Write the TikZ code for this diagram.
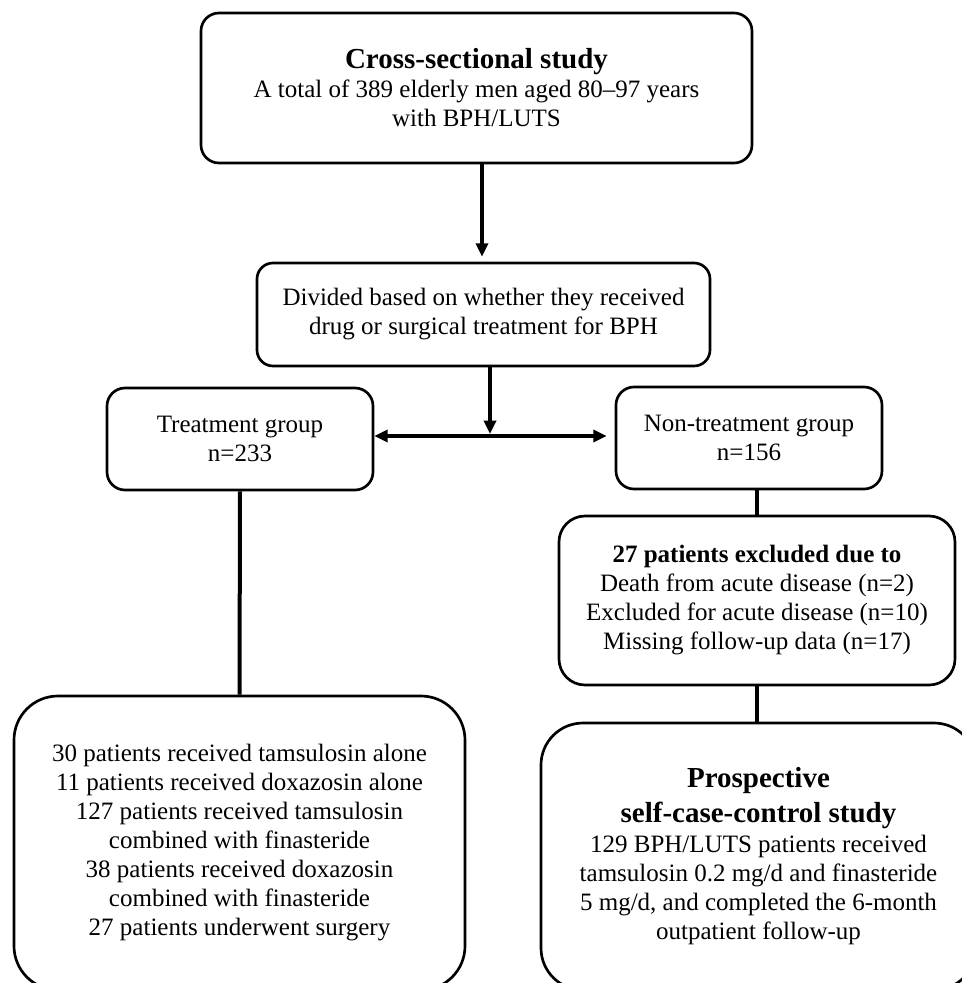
\documentclass[tikz,border=0pt]{standalone}
\usepackage{fontspec}
\setmainfont{Liberation Serif}
\usetikzlibrary{arrows.meta}

\tikzset{every picture/.style={line width=0.75pt}}
\tikzset{
	box/.style={draw, line width=2pt, rounded corners=#1, align=center, inner sep=0pt, font=\fontsize{18.75}{21.75}\selectfont},
	box/.default=13.5pt,
	conn/.style={line width=3pt},
	arr/.style={conn, -{Triangle[length=10pt,width=9pt]}},
	arrs/.style={conn, {Triangle[length=10pt,width=9pt]}-{Triangle[length=10pt,width=9pt]}},
}
\newcommand{\ttl}[1]{{\bfseries\fontsize{21.75}{26}\selectfont #1}}

\begin{document}
\begin{tikzpicture}[x=0.75pt,y=0.75pt,yscale=-1,xscale=1]
	\useasboundingbox (0,0) rectangle (962,983);

	%Shape: Rounded Rect [id:cross]
	\node[box, minimum width=413.25pt, minimum height=112.5pt] (cross) at (476.5,88) {\ttl{Cross-sectional study}\\ A total of 389 elderly men aged 80--97 years\\ with BPH/LUTS};
	%Shape: Rounded Rect [id:divide]
	\node[box=12pt, minimum width=339.75pt, minimum height=77.25pt] (divide) at (483.5,314.5) {Divided based on whether they received\\ drug or surgical treatment for BPH};
	%Shape: Rounded Rect [id:treat]
	\node[box, minimum width=199.5pt, minimum height=76.5pt] (treat) at (240,439) {Treatment group\\ n=233};
	%Shape: Rounded Rect [id:nontreat]
	\node[box, minimum width=199.5pt, minimum height=76.5pt] (nontreat) at (749,438) {Non-treatment group\\ n=156};
	%Shape: Rounded Rect [id:exclude]
	\node[box=19.5pt, minimum width=297pt, minimum height=126.75pt] (exclude) at (757,600.5) {\textbf{27 patients excluded due to}\\ Death from acute disease (n=2)\\ Excluded for acute disease (n=10)\\ Missing follow-up data (n=17)};
	%Shape: Rounded Rect [id:drugs]
	\node[box=33pt, minimum width=338.25pt, minimum height=220.5pt] (drugs) at (239.5,843) {30 patients received tamsulosin alone\\ 11 patients received doxazosin alone\\ 127 patients received tamsulosin\\ combined with finasteride\\ 38 patients received doxazosin\\ combined with finasteride\\ 27 patients underwent surgery};
	%Shape: Rounded Rect [id:prosp]
	\node[box=31.5pt, minimum width=326.25pt, minimum height=200.25pt] (prosp) at (758.5,856.5) {\ttl{Prospective}\\[4.5pt] \ttl{self-case-control study}\\[0.75pt] 129 BPH/LUTS patients received\\ tamsulosin 0.2 mg/d and finasteride\\ 5 mg/d, and completed the 6-month\\ outpatient follow-up};

	\coordinate (split) at (490,436);

	%Straight Lines [id:cross-divide]
	\draw[arr, shorten >=3.75pt] ([xshift=4.1pt]cross.south) -- ([xshift=4.1pt]cross.south |- divide.north);
	%Straight Lines [id:divide-split]
	\draw[arr, shorten >=1.5pt] (divide.south -| split) -- (split);
	%Straight Lines [id:treat-nontreat]
	\draw[arrs, shorten >=6pt] (treat.east |- split) -- (nontreat.west |- split);
	%Straight Lines [id:treat-drugs]
	\draw[conn] (treat.south) -- (drugs.north);
	%Straight Lines [id:nontreat-exclude]
	\draw[conn] (exclude.north |- nontreat.south) -- (exclude.north);
	%Straight Lines [id:exclude-prosp]
	\draw[conn] (exclude.south) -- (exclude.south |- prosp.north);

\end{tikzpicture}
\end{document}
